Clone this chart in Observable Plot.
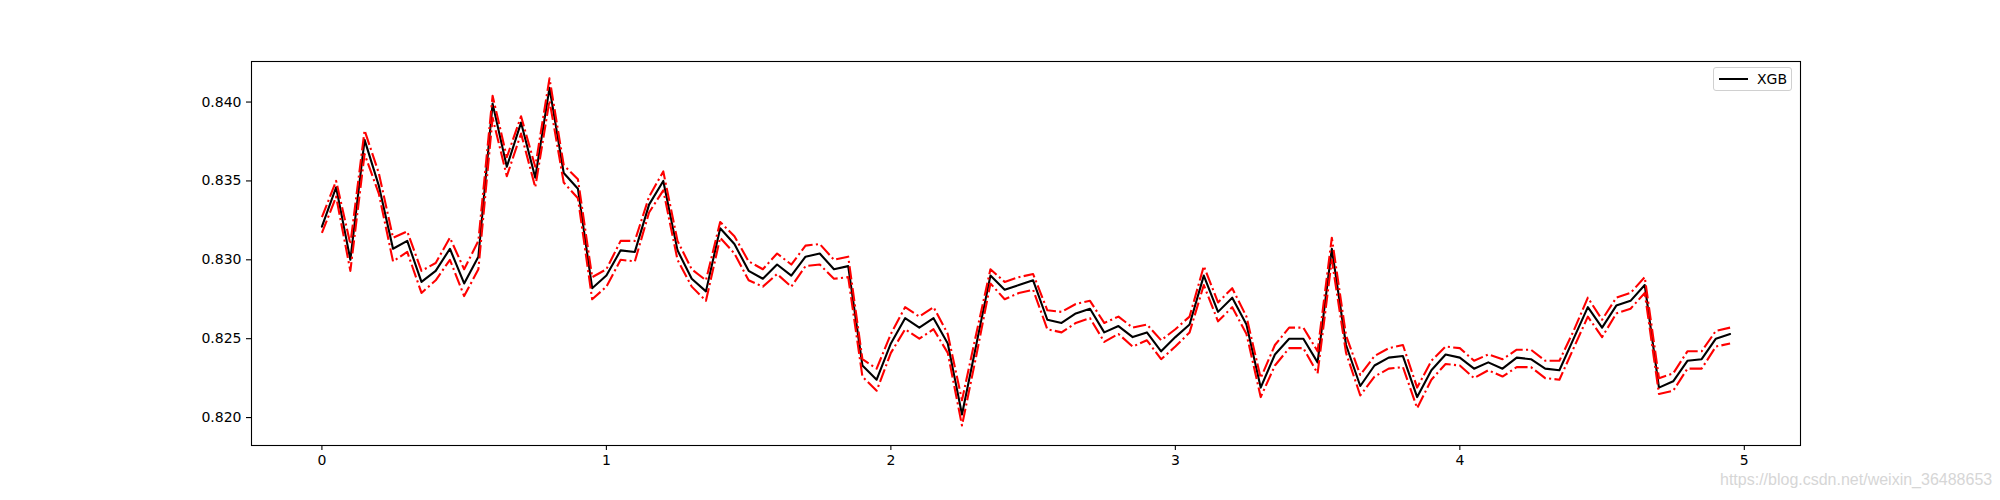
<!DOCTYPE html>
<html><head><meta charset="utf-8">
<script src="https://cdn.jsdelivr.net/npm/d3@7"></script>
<script src="https://cdn.jsdelivr.net/npm/@observablehq/plot@0.6"></script>
<style>
body{margin:0;background:#fff;}
#wrap{position:relative;width:2000px;height:500px;font-family:"DejaVu Sans",sans-serif;background:#fff;}
#legend{position:absolute;left:1713px;top:67px;width:79px;height:24px;border:1px solid #d0d0d0;border-radius:3px;background:rgba(255,255,255,0.8);box-sizing:border-box;}
#legend .ln{position:absolute;left:5px;top:10px;width:29px;height:2px;background:#000;}
#legend .tx{position:absolute;left:43px;top:3px;font-size:14px;line-height:16px;color:#000;}
#wm{position:absolute;left:1720px;top:471px;font-family:"Liberation Sans",Arial,sans-serif;font-size:16px;color:#d6d6d6;white-space:nowrap;}
</style></head><body><div id="wrap"></div>
<script>
const xValues = [0,0.05,0.1,0.15,0.2,0.25,0.3,0.35,0.4,0.45,0.5,0.55,0.6,0.65,0.7,0.75,0.8,0.85,0.9,0.95,
1,1.05,1.1,1.15,1.2,1.25,1.3,1.35,1.4,1.45,1.5,1.55,1.6,1.65,1.7,1.75,1.8,1.85,1.9,1.95,
2,2.05,2.1,2.15,2.2,2.25,2.3,2.35,2.4,2.45,2.5,2.55,2.6,2.65,2.7,2.75,2.8,2.85,2.9,2.95,
3,3.05,3.1,3.15,3.2,3.25,3.3,3.35,3.4,3.45,3.5,3.55,3.6,3.65,3.7,3.75,3.8,3.85,3.9,3.95,
4,4.05,4.1,4.15,4.2,4.25,4.3,4.35,4.4,4.45,4.5,4.55,4.6,4.65,4.7,4.75,4.8,4.85,4.9,4.95];

const xgb = [0.8321,0.8346,0.8300,0.8376,0.8347,0.8307,0.8312,0.8286,0.8293,0.8307,
0.8285,0.8302,0.8399,0.8359,0.8387,0.8352,0.8409,0.8355,0.8345,0.8282,
0.8290,0.8306,0.8305,0.8335,0.8350,0.8306,0.8288,0.8280,0.8320,0.8310,
0.8293,0.8288,0.8297,0.8290,0.8302,0.8304,0.8294,0.8296,0.8233,0.8224,
0.8247,0.8263,0.8257,0.8263,0.8247,0.8202,0.8246,0.8290,0.8281,0.8284,
0.8287,0.8262,0.8260,0.8266,0.8269,0.8254,0.8258,0.8251,0.8254,0.8242,
0.8251,0.8259,0.8290,0.8267,0.8276,0.8259,0.8219,0.8240,0.8250,0.8250,
0.8235,0.8307,0.8246,0.8220,0.8233,0.8238,0.8239,0.8213,0.8230,0.8240,
0.8238,0.8231,0.8235,0.8231,0.8238,0.8237,0.8231,0.8230,0.8250,0.8270,
0.8257,0.8271,0.8274,0.8284,0.8219,0.8223,0.8236,0.8237,0.8250,0.8253];

const upper = [0.8327,0.8350,0.8310,0.8382,0.8355,0.8314,0.8318,0.8293,0.8298,0.8314,
0.8294,0.8312,0.8404,0.8365,0.8391,0.8359,0.8415,0.8360,0.8351,0.8289,
0.8294,0.8312,0.8312,0.8340,0.8356,0.8312,0.8294,0.8287,0.8324,0.8315,
0.8299,0.8294,0.8304,0.8297,0.8309,0.8310,0.8300,0.8302,0.8237,0.8231,
0.8253,0.8270,0.8264,0.8270,0.8253,0.8211,0.8253,0.8294,0.8286,0.8289,
0.8291,0.8268,0.8267,0.8272,0.8274,0.8260,0.8264,0.8257,0.8259,0.8249,
0.8256,0.8264,0.8296,0.8273,0.8282,0.8264,0.8225,0.8246,0.8257,0.8257,
0.8242,0.8314,0.8252,0.8227,0.8239,0.8244,0.8246,0.8219,0.8236,0.8245,
0.8244,0.8236,0.8240,0.8237,0.8243,0.8243,0.8236,0.8236,0.8255,0.8276,
0.8262,0.8276,0.8279,0.8289,0.8225,0.8228,0.8242,0.8242,0.8255,0.8257];

const lower = [0.8317,0.8340,0.8293,0.8367,0.8342,0.8299,0.8305,0.8279,0.8287,0.8300,
0.8277,0.8294,0.8390,0.8353,0.8380,0.8346,0.8401,0.8349,0.8339,0.8275,
0.8283,0.8300,0.8299,0.8330,0.8344,0.8300,0.8283,0.8274,0.8314,0.8304,
0.8287,0.8283,0.8291,0.8283,0.8296,0.8297,0.8288,0.8289,0.8226,0.8217,
0.8241,0.8256,0.8250,0.8256,0.8241,0.8195,0.8239,0.8285,0.8275,0.8279,
0.8281,0.8256,0.8254,0.8260,0.8263,0.8248,0.8253,0.8245,0.8249,0.8237,
0.8245,0.8254,0.8284,0.8261,0.8270,0.8253,0.8213,0.8233,0.8244,0.8244,
0.8228,0.8300,0.8241,0.8214,0.8226,0.8231,0.8232,0.8206,0.8224,0.8234,
0.8233,0.8225,0.8230,0.8226,0.8232,0.8232,0.8225,0.8224,0.8244,0.8264,
0.8251,0.8266,0.8269,0.8279,0.8215,0.8217,0.8231,0.8231,0.8245,0.8247];

const xTicks = [0,1,2,3,4,5];
const yTicks = [0.820,0.825,0.830,0.835,0.840];
const seriesName = "XGB";

const data = xValues.map((x,i)=>({x, mean:xgb[i], upper:upper[i], lower:lower[i]}));
const dash = "13.3,3.3,2.1,3.3";

const chart = Plot.plot({
  width:2000, height:500,
  marginLeft:251, marginRight:200, marginTop:61, marginBottom:55,
  style:{fontFamily:"DejaVu Sans, sans-serif", fontSize:"14px", color:"#000", background:"#fff"},
  x:{domain:[-0.2475,5.1975]},
  y:{domain:[0.81823,0.84257]},
  marks:[
    Plot.line(data,{x:"x",y:"mean",stroke:"#000",strokeWidth:2.1,strokeLinejoin:"round"}),
    Plot.line(data,{x:"x",y:"upper",stroke:"#ff0000",strokeWidth:2.1,strokeDasharray:dash,strokeLinejoin:"round",strokeLinecap:"butt"}),
    Plot.line(data,{x:"x",y:"lower",stroke:"#ff0000",strokeWidth:2.1,strokeDasharray:dash,strokeLinejoin:"round",strokeLinecap:"butt"}),
    Plot.axisX(xTicks,{tickSize:5,tickPadding:5,label:null,tickFormat:d3.format("d"),fontSize:14,strokeWidth:1.1}),
    Plot.axisY(yTicks,{tickSize:5,tickPadding:5,label:null,tickFormat:d3.format(".3f"),fontSize:14,strokeWidth:1.1}),
    Plot.frame({stroke:"#000",strokeWidth:1.1})
  ]
});
const wrap = document.getElementById("wrap");
wrap.appendChild(chart);
chart.style.position="absolute"; chart.style.left="0"; chart.style.top="0";

const lg = document.createElement("div");
lg.id="legend";
lg.innerHTML = '<div class="ln"></div><div class="tx"></div>';
lg.querySelector(".tx").textContent = seriesName;
wrap.appendChild(lg);

const wm = document.createElement("div");
wm.id="wm"; wm.textContent="https://blog.csdn.net/weixin_36488653";
wrap.appendChild(wm);
</script></body></html>
